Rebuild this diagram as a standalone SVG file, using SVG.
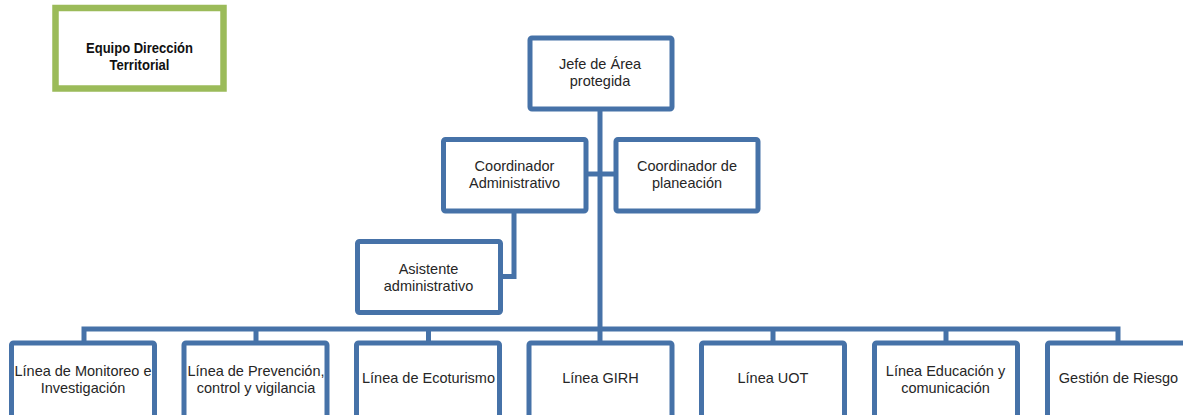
<svg xmlns="http://www.w3.org/2000/svg" width="1183" height="415" viewBox="0 0 1183 415">
<style>
.box{fill:#fff;stroke:#4672a8;stroke-width:5;}
.conn{fill:none;stroke:#4672a8;stroke-width:5;stroke-linejoin:miter;}
.t{font-family:"Liberation Sans",Arial,sans-serif;font-size:14.5px;fill:#262626;text-anchor:middle;}
.tb{font-family:"Liberation Sans",Arial,sans-serif;font-size:15px;font-weight:bold;fill:#111;text-anchor:middle;}
</style>
<rect width="1183" height="415" fill="#fff"/>
<g id="titulo">
<rect x="55.5" y="8" width="168" height="80.5" fill="#fff" stroke="#9bbb59" stroke-width="6.5"/>
<text class="tb" x="139.5" y="52.5" textLength="107" lengthAdjust="spacingAndGlyphs">Equipo Dirección</text>
<text class="tb" x="139.5" y="69.5" textLength="60" lengthAdjust="spacingAndGlyphs">Territorial</text>
</g>
<g id="connectors">
<path class="conn" d="M600,110 V329"/>
<path class="conn" d="M586,174 H616"/>
<path class="conn" d="M514,212 V276.5 H501"/>
<path class="conn" d="M84,341 V329 H1118 V341"/>
<path class="conn" d="M256,329 V341 M428.5,329 V341 M600,329 V341 M773,329 V341 M946,329 V341"/>
</g>
<g id="jefe">
<rect class="box" x="530" y="38" width="142" height="71" rx="2"/>
<text class="t" x="600" y="69">Jefe de Área</text>
<text class="t" x="600" y="86">protegida</text>
</g>
<g id="coord-admin">
<rect class="box" x="443.5" y="139.5" width="142.5" height="71.5" rx="2"/>
<text class="t" x="514.5" y="170.5">Coordinador</text>
<text class="t" x="514.5" y="188">Administrativo</text>
</g>
<g id="coord-plan">
<rect class="box" x="616" y="139.5" width="142" height="71.5" rx="2"/>
<text class="t" x="687" y="170.5">Coordinador de</text>
<text class="t" x="687" y="188">planeación</text>
</g>
<g id="asistente">
<rect class="box" x="357.5" y="241.5" width="143" height="71" rx="2"/>
<text class="t" x="428.5" y="274">Asistente</text>
<text class="t" x="428.5" y="291">administrativo</text>
</g>
<g id="monitoreo">
<rect class="box" x="11.5" y="343" width="143" height="80" rx="2"/>
<text class="t" x="83" y="375.5">Línea de Monitoreo e</text>
<text class="t" x="83" y="392.5">Investigación</text>
</g>
<g id="prevencion">
<rect class="box" x="184" y="343" width="143" height="80" rx="2"/>
<text class="t" x="256" y="375.5">Línea de Prevención,</text>
<text class="t" x="256" y="392.5">control y vigilancia</text>
</g>
<g id="ecoturismo">
<rect class="box" x="356.5" y="343" width="143" height="80" rx="2"/>
<text class="t" x="428.5" y="383">Línea de Ecoturismo</text>
</g>
<g id="girh">
<rect class="box" x="529" y="343" width="143" height="80" rx="2"/>
<text class="t" x="600.5" y="383">Línea GIRH</text>
</g>
<g id="uot">
<rect class="box" x="701.5" y="343" width="143" height="80" rx="2"/>
<text class="t" x="773" y="383">Línea UOT</text>
</g>
<g id="educacion">
<rect class="box" x="874.5" y="343" width="143" height="80" rx="2"/>
<text class="t" x="945.5" y="375.5">Línea Educación y</text>
<text class="t" x="945.5" y="392.5">comunicación</text>
</g>
<g id="riesgo">
<rect class="box" x="1047.5" y="343" width="143" height="80" rx="2"/>
<text class="t" x="1118.5" y="383">Gestión de Riesgo</text>
</g>
</svg>
